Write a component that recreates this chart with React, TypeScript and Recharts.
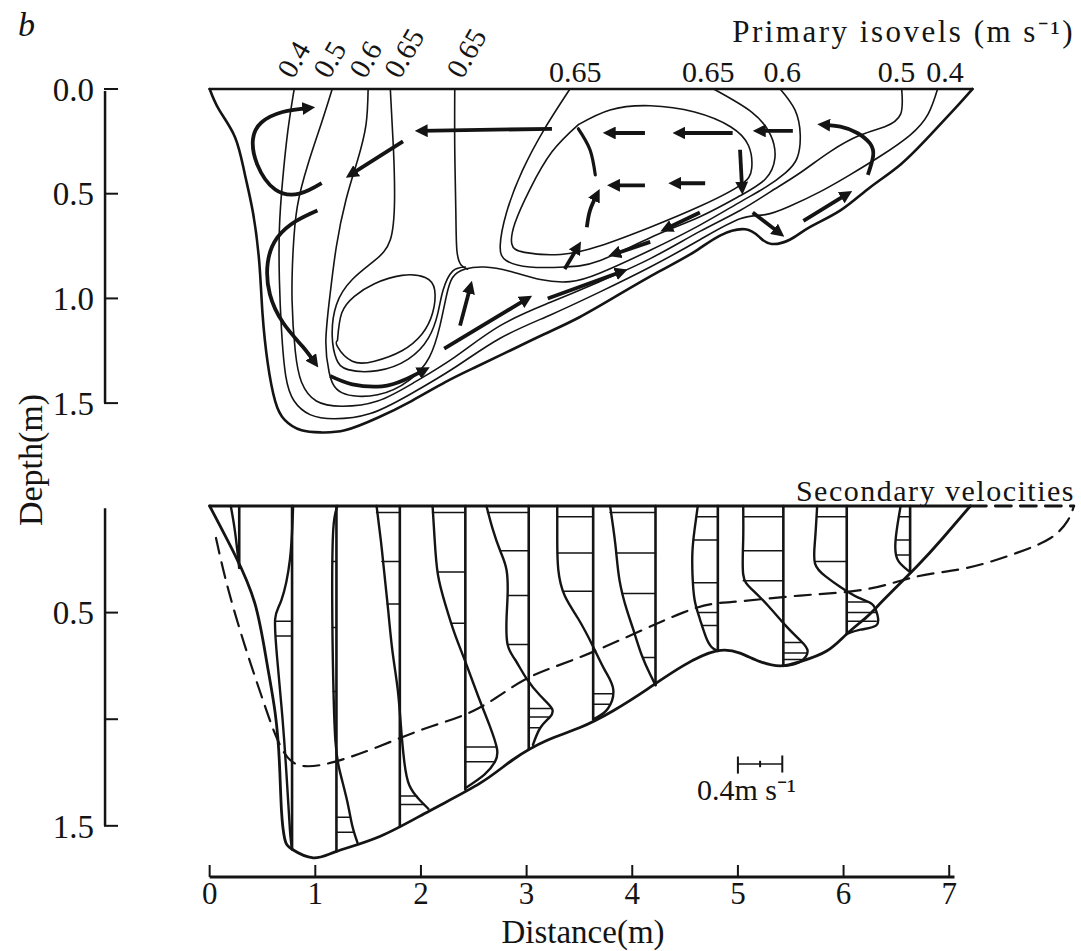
import React from 'react';
import { LineChart, Line, XAxis, YAxis, ReferenceLine, ReferenceDot } from 'recharts';

type Pt = [number, number]; // [distance m, depth m]

const INK = '#141414';
const SERIF = '"Liberation Serif", "Times New Roman", serif';

// ---------- top panel: primary isovels ----------
const surfaceTop: Pt[] = [[0, 0], [7.22, 0]];
const outlineTop: Pt[] = [[0, 0], [0.09, 0.1], [0.24, 0.23], [0.33, 0.4], [0.41, 0.59], [0.47, 0.83], [0.5, 1.07], [0.55, 1.31], [0.62, 1.49], [0.71, 1.58], [0.87, 1.63], [1.06, 1.64], [1.28, 1.63], [1.59, 1.57], [1.91, 1.49], [2.23, 1.4], [2.51, 1.33], [2.84, 1.25], [3.17, 1.17], [3.5, 1.09], [3.88, 0.98], [4.26, 0.87], [4.58, 0.78], [4.83, 0.7], [5.07, 0.67], [5.21, 0.71], [5.32, 0.74], [5.49, 0.72], [5.68, 0.66], [5.97, 0.58], [6.25, 0.47], [6.54, 0.36], [6.82, 0.22], [7.06, 0.09], [7.22, 0]];
const iso04: Pt[] = [[0.8, 0], [0.74, 0.2], [0.69, 0.44], [0.66, 0.67], [0.66, 0.91], [0.68, 1.15], [0.72, 1.37], [0.8, 1.49], [0.95, 1.555], [1.18, 1.575], [1.52, 1.55], [1.89, 1.46], [2.32, 1.33], [2.75, 1.19], [3.22, 1.08], [3.69, 0.97], [4.17, 0.85], [4.64, 0.72], [5.02, 0.62], [5.26, 0.6], [5.49, 0.56], [5.78, 0.49], [6.06, 0.41], [6.35, 0.32], [6.63, 0.22], [6.8, 0.12], [6.89, 0]];
const iso05: Pt[] = [[1.16, 0], [1.06, 0.16], [0.93, 0.36], [0.83, 0.56], [0.79, 0.77], [0.78, 1.01], [0.81, 1.25], [0.87, 1.4], [1.01, 1.49], [1.25, 1.515], [1.59, 1.49], [1.94, 1.4], [2.32, 1.28], [2.75, 1.13], [3.22, 1.02], [3.69, 0.92], [4.17, 0.81], [4.64, 0.68], [5.02, 0.58], [5.31, 0.49], [5.59, 0.4], [5.87, 0.3], [6.16, 0.22], [6.39, 0.18], [6.54, 0.12], [6.55, 0]];
const iso06: Pt[] = [[1.5, 0], [1.48, 0.17], [1.4, 0.34], [1.29, 0.53], [1.2, 0.75], [1.14, 0.98], [1.1, 1.2], [1.13, 1.35], [1.25, 1.45], [1.59, 1.46], [1.89, 1.39], [2.08, 1.28], [2.18, 1.13], [2.24, 0.99], [2.3, 0.9], [2.42, 0.86], [2.6, 0.85], [2.84, 0.87], [3.13, 0.91], [3.41, 0.92], [3.69, 0.88], [4.17, 0.77], [4.64, 0.65], [5.02, 0.54], [5.26, 0.47], [5.45, 0.4], [5.56, 0.33], [5.59, 0.22], [5.54, 0.1], [5.4, 0]];
const iso065a: Pt[] = [[1.71, 0], [1.74, 0.29], [1.75, 0.53], [1.71, 0.72], [1.56, 0.82], [1.35, 0.91], [1.2, 1.03], [1.16, 1.18], [1.2, 1.29], [1.31, 1.34], [1.59, 1.345], [1.88, 1.29], [2.07, 1.19], [2.16, 1.07], [2.21, 0.96], [2.3, 0.87], [2.42, 0.85]];
const iso065b: Pt[] = [[2.32, 0], [2.32, 0.29], [2.33, 0.58], [2.34, 0.77], [2.38, 0.84], [2.44, 0.86]];
const iso065c: Pt[] = [[3.41, 0], [3.17, 0.19], [2.96, 0.39], [2.81, 0.59], [2.75, 0.75], [2.81, 0.82], [3.03, 0.85], [3.36, 0.85], [3.69, 0.82], [4.17, 0.71], [4.64, 0.61], [5.02, 0.51], [5.26, 0.43], [5.35, 0.33], [5.31, 0.22], [5.13, 0.11], [4.77, 0]];
const coreLoop: Pt[] = [[3.49, 0.17], [3.79, 0.1], [4.17, 0.08], [4.59, 0.11], [4.93, 0.18], [5.1, 0.27], [5.13, 0.38], [5.02, 0.46], [4.64, 0.56], [4.17, 0.66], [3.69, 0.75], [3.32, 0.79], [2.98, 0.78], [2.86, 0.74], [2.89, 0.64], [3.03, 0.48], [3.24, 0.3], [3.49, 0.17]];
const bedLoop: Pt[] = [[1.21, 1.2], [1.25, 1.07], [1.37, 0.99], [1.56, 0.93], [1.82, 0.89], [2.04, 0.9], [2.13, 0.96], [2.11, 1.07], [2.01, 1.17], [1.82, 1.25], [1.56, 1.3], [1.35, 1.3], [1.21, 1.23], [1.21, 1.2]];

// secondary-flow arrows (tail ... head)
const arrowA: Pt[] = [[1.06, 0.45], [0.85, 0.5], [0.62, 0.48], [0.45, 0.36], [0.41, 0.24], [0.49, 0.16], [0.69, 0.11], [0.95, 0.09]];
const arrowB: Pt[] = [[1.02, 0.58], [0.82, 0.63], [0.64, 0.71], [0.55, 0.83], [0.57, 0.98], [0.7, 1.12], [0.88, 1.23], [1.0, 1.31]];
const arrowC: Pt[] = [[3.24, 0.19], [1.99, 0.2]];
const arrowD: Pt[] = [[1.83, 0.25], [1.33, 0.41]];
const arrowE: Pt[] = [[1.14, 1.37], [1.35, 1.41], [1.63, 1.42], [1.84, 1.39], [2.04, 1.34]];
const arrowF: Pt[] = [[2.37, 1.13], [2.47, 0.94]];
const arrowG: Pt[] = [[2.22, 1.24], [3.01, 1.0]];
const arrowH: Pt[] = [[3.2, 1.0], [3.91, 0.87]];
const arrowI: Pt[] = [[3.36, 0.86], [3.49, 0.75]];
const arrowJ: Pt[] = [[4.17, 0.73], [3.82, 0.79]];
const arrowK: Pt[] = [[4.64, 0.59], [4.31, 0.67]];
const arrowL: Pt[] = [[4.12, 0.21], [3.77, 0.21]];
const arrowM: Pt[] = [[4.95, 0.21], [4.43, 0.21]];
const arrowN: Pt[] = [[5.52, 0.2], [5.19, 0.2]];
const arrowO: Pt[] = [[4.12, 0.46], [3.81, 0.46]];
const arrowP: Pt[] = [[4.69, 0.45], [4.39, 0.45]];
const arrowR: Pt[] = [[3.57, 0.66], [3.6, 0.58], [3.67, 0.5]];
const arrowS: Pt[] = [[5.02, 0.29], [5.04, 0.48]];
const arrowT: Pt[] = [[6.23, 0.41], [6.28, 0.32], [6.25, 0.26], [6.13, 0.21], [5.97, 0.18], [5.8, 0.17]];
const arrowU: Pt[] = [[5.62, 0.63], [6.04, 0.5]];
const arrowV: Pt[] = [[5.14, 0.59], [5.4, 0.69]];
const divide: Pt[] = [[3.49, 0.19], [3.6, 0.29], [3.65, 0.41]];

const leftIsoLabels = ['0.4', '0.5', '0.6', '0.65', '0.65'];
const leftIsoAt = [0.79, 1.13, 1.47, 1.8, 2.39];
const rightIsoLabels = ['0.65', '0.65', '0.6', '0.5', '0.4'];
const rightIsoAt = [3.46, 4.72, 5.42, 6.5, 6.96];

// ---------- bottom panel: secondary velocities ----------
const surfaceBottom: Pt[] = [[0, 0], [7.2, 0]];
const surfaceExtension: Pt[] = [[7.2, 0], [8.18, 0]];
const outlineBottom: Pt[] = [[0, 0], [0.24, 0.23], [0.43, 0.46], [0.54, 0.73], [0.62, 0.97], [0.66, 1.2], [0.68, 1.43], [0.71, 1.56], [0.78, 1.61], [0.98, 1.65], [1.2, 1.62], [1.61, 1.55], [2.08, 1.43], [2.56, 1.3], [2.87, 1.19], [3.19, 1.1], [3.5, 1.04], [3.82, 0.96], [4.14, 0.86], [4.48, 0.75], [4.8, 0.68], [5.02, 0.69], [5.21, 0.73], [5.4, 0.75], [5.59, 0.73], [5.84, 0.68], [6.03, 0.6], [6.22, 0.52], [6.38, 0.44], [6.7, 0.28], [6.94, 0.15], [7.2, 0]];
const dashedCurve: Pt[] = [[0.06, 0.15], [0.17, 0.38], [0.33, 0.65], [0.49, 0.89], [0.62, 1.07], [0.74, 1.18], [0.9, 1.22], [1.18, 1.2], [1.59, 1.13], [2.06, 1.04], [2.54, 0.95], [3.0, 0.81], [3.6, 0.69], [4.48, 0.5], [4.95, 0.45], [5.59, 0.42], [6.22, 0.39], [6.7, 0.33], [7.17, 0.29], [7.64, 0.22], [7.96, 0.15], [8.12, 0.07], [8.18, 0]];

const stationX = [0.28, 0.78, 1.2, 1.8, 2.42, 3.02, 3.63, 4.22, 4.81, 5.43, 6.03, 6.63];
const stationBed = [0.29, 1.61, 1.62, 1.5, 1.33, 1.14, 1.0, 0.84, 0.68, 0.75, 0.6, 0.31];

const p1: Pt[] = [[0.2, 0], [0.24, 0.12], [0.28, 0.29]];
const p2: Pt[] = [[0.79, 0], [0.76, 0.25], [0.68, 0.44], [0.62, 0.53], [0.64, 0.72], [0.69, 1.0], [0.73, 1.28], [0.76, 1.52], [0.78, 1.61]];
const p3: Pt[] = [[1.21, 0], [1.17, 0.11], [1.16, 0.44], [1.17, 0.82], [1.19, 1.1], [1.23, 1.24], [1.3, 1.38], [1.35, 1.5], [1.4, 1.58]];
const p4: Pt[] = [[1.58, 0], [1.62, 0.16], [1.65, 0.3], [1.69, 0.49], [1.73, 0.68], [1.78, 0.86], [1.81, 1.03], [1.84, 1.19], [1.89, 1.31], [1.99, 1.38], [2.07, 1.42]];
const p5: Pt[] = [[2.11, 0], [2.13, 0.16], [2.16, 0.32], [2.23, 0.46], [2.32, 0.6], [2.42, 0.73], [2.54, 0.89], [2.65, 1.03], [2.72, 1.14], [2.7, 1.2], [2.6, 1.26], [2.43, 1.32]];
const p6: Pt[] = [[2.62, 0], [2.68, 0.11], [2.75, 0.21], [2.81, 0.3], [2.82, 0.42], [2.81, 0.53], [2.82, 0.65], [2.89, 0.72], [3.0, 0.81], [3.13, 0.89], [3.24, 0.95], [3.22, 0.99], [3.13, 1.04], [3.06, 1.12]];
const p7: Pt[] = [[3.29, 0], [3.29, 0.16], [3.3, 0.3], [3.36, 0.42], [3.49, 0.53], [3.63, 0.66], [3.74, 0.77], [3.82, 0.86], [3.77, 0.95], [3.67, 0.99], [3.63, 1.0]];
const p8: Pt[] = [[3.79, 0], [3.84, 0.18], [3.88, 0.35], [3.95, 0.49], [4.01, 0.58], [4.09, 0.7], [4.17, 0.79], [4.22, 0.84]];
const p9: Pt[] = [[4.62, 0], [4.59, 0.11], [4.57, 0.21], [4.57, 0.32], [4.59, 0.44], [4.64, 0.53], [4.71, 0.63], [4.77, 0.67], [4.81, 0.68]];
const p10: Pt[] = [[5.05, 0], [5.05, 0.16], [5.05, 0.32], [5.13, 0.39], [5.29, 0.47], [5.45, 0.56], [5.59, 0.63], [5.66, 0.68], [5.59, 0.73], [5.45, 0.75]];
const p11: Pt[] = [[5.75, 0], [5.73, 0.16], [5.73, 0.27], [5.83, 0.33], [5.97, 0.38], [6.14, 0.43], [6.27, 0.46], [6.32, 0.51], [6.31, 0.56], [6.16, 0.58], [6.03, 0.6]];
const p12: Pt[] = [[6.54, 0], [6.51, 0.09], [6.49, 0.18], [6.51, 0.25], [6.58, 0.29], [6.63, 0.31]];

// hatch rungs: [depth, x where the rung meets the profile]
const h2: Pt[] = [[0.54, 0.63], [0.61, 0.63]];
const h3: Pt[] = [[0.26, 1.16], [0.57, 1.16], [0.87, 1.17], [1.46, 1.33], [1.53, 1.36]];
const h4: Pt[] = [[0.03, 1.58], [0.26, 1.63], [0.46, 1.68], [1.36, 1.96], [1.4, 2.03]];
const h5: Pt[] = [[0.03, 2.11], [0.31, 2.16], [0.55, 2.29], [1.13, 2.71], [1.2, 2.7]];
const h6: Pt[] = [[0.03, 2.63], [0.21, 2.75], [0.42, 2.82], [0.65, 2.82], [0.95, 3.23], [0.99, 3.22], [1.04, 3.13]];
const h7: Pt[] = [[0.05, 3.29], [0.22, 3.29], [0.4, 3.34], [0.88, 3.81], [0.93, 3.78]];
const h8: Pt[] = [[0.03, 3.79], [0.22, 3.85], [0.41, 3.9], [0.71, 4.1]];
const h9: Pt[] = [[0.05, 4.61], [0.16, 4.58], [0.36, 4.58], [0.5, 4.63], [0.56, 4.66]];
const h10: Pt[] = [[0.05, 5.05], [0.21, 5.05], [0.35, 5.05], [0.64, 5.6], [0.69, 5.65], [0.72, 5.6]];
const h11: Pt[] = [[0.05, 5.75], [0.26, 5.73], [0.45, 6.23], [0.5, 6.31], [0.54, 6.31]];
const h12: Pt[] = [[0.05, 6.53], [0.16, 6.5], [0.23, 6.5]];

const profiles = [p1, p2, p3, p4, p5, p6, p7, p8, p9, p10, p11, p12];
const hatches = [[], h2, h3, h4, h5, h6, h7, h8, h9, h10, h11, h12] as Pt[][];

const distanceTicks = [0, 1, 2, 3, 4, 5, 6, 7];

const rows = (pts: Pt[]) => pts.map(([x, d]) => ({ x, d }));

function trace(key: string, pts: Pt[], width: number, opts: { type?: any; dash?: string; head?: boolean } = {}) {
  return (
    <Line
      key={key}
      data={rows(pts)}
      dataKey="d"
      type={opts.type ?? 'natural'}
      stroke={INK}
      strokeWidth={width}
      strokeDasharray={opts.dash}
      strokeLinecap={opts.head ? 'butt' : 'round'}
      strokeLinejoin="round"
      markerEnd={opts.head ? 'url(#arrowHead)' : undefined}
      dot={false}
      activeDot={false}
      legendType="none"
      isAnimationActive={false}
    />
  );
}

const tickFont = { fill: INK, fontSize: 33, fontFamily: SERIF };

export default function App() {
  const isovels = [iso04, iso05, iso06, iso065a, iso065b, iso065c, coreLoop, bedLoop];
  const arrows = [arrowA, arrowB, arrowC, arrowD, arrowE, arrowF, arrowG, arrowH, arrowI, arrowJ, arrowK, arrowL, arrowM, arrowN, arrowO, arrowP, arrowR, arrowS, arrowT, arrowU, arrowV];

  return (
    <div style={{ position: 'absolute', left: 0, top: 0, width: 1081, height: 951, background: '#fff', color: INK, fontFamily: SERIF, overflow: 'hidden' }}>
      <svg width={0} height={0} style={{ position: 'absolute' }}>
        <defs>
          <marker id="arrowHead" viewBox="0 0 10 10" refX={6} refY={5} markerWidth={3.4} markerHeight={3.4} orient="auto" markerUnits="strokeWidth">
            <path d="M0,0 L10,5 L0,10 z" fill={INK} />
          </marker>
        </defs>
      </svg>

      <div style={{ position: 'absolute', left: 18, top: 6, fontSize: 34, fontStyle: 'italic', lineHeight: 1.1 }}>b</div>
      <div style={{ position: 'absolute', right: 6, top: 16, fontSize: 31, letterSpacing: 2.5, lineHeight: 1, whiteSpace: 'nowrap' }}>
        Primary isovels (m s⁻¹)
      </div>
      <div style={{ position: 'absolute', right: 6, top: 476, fontSize: 30, letterSpacing: 1.5, lineHeight: 1, whiteSpace: 'nowrap' }}>
        Secondary velocities
      </div>
      <div style={{ position: 'absolute', left: 697, top: 775, fontSize: 30, lineHeight: 1, whiteSpace: 'nowrap' }}>0.4m s⁻¹</div>
      <div style={{ position: 'absolute', left: 31, top: 460, fontSize: 34, lineHeight: 1, whiteSpace: 'nowrap', transform: 'translate(-50%, -50%) rotate(-90deg)' }}>
        Depth(m)
      </div>
      <div style={{ position: 'absolute', left: 583, top: 916, fontSize: 33, lineHeight: 1, whiteSpace: 'nowrap', transform: 'translateX(-50%)' }}>
        Distance(m)
      </div>

      {/* primary isovels */}
      <div style={{ position: 'absolute', left: 0, top: 0 }}>
        <LineChart width={1081} height={450} margin={{ top: 89, right: 5, bottom: 5, left: 44 }}>
          <XAxis type="number" dataKey="x" domain={[-1, 8.2]} hide />
          <YAxis
            type="number"
            width={60}
            domain={[0, 1.7]}
            reversed
            ticks={[0, 0.5, 1, 1.5]}
            interval={0}
            tickFormatter={(v: number) => v.toFixed(1)}
            axisLine={false}
            tickSize={-14}
            tickMargin={24}
            tickLine={{ stroke: INK, strokeWidth: 2 }}
            tick={tickFont}
          />
          <ReferenceLine segment={[{ x: -0.99, y: 0.01 }, { x: -0.99, y: 1.5 }]} stroke={INK} strokeWidth={2.5} ifOverflow="visible" />
          {trace('surface', surfaceTop, 2.6, { type: 'linear' })}
          {trace('outline', outlineTop, 2.6)}
          {isovels.map((pts, i) => trace(`iso-${i}`, pts, 1.6))}
          {arrows.map((pts, i) => trace(`arrow-${i}`, pts, 3.8, { type: pts.length > 2 ? 'natural' : 'linear', head: true }))}
          {trace('divide', divide, 3.2)}
          {leftIsoLabels.map((label, i) => (
            <ReferenceDot
              key={`ll-${i}`}
              x={leftIsoAt[i]}
              y={0}
              r={0}
              ifOverflow="visible"
              shape={(p: any) => (
                <text x={p.cx} y={p.cy - 9} transform={`rotate(-60 ${p.cx} ${p.cy - 9})`} fontSize={29} fontFamily={SERIF} fill={INK}>
                  {label}
                </text>
              )}
            />
          ))}
          {rightIsoLabels.map((label, i) => (
            <ReferenceDot
              key={`rl-${i}`}
              x={rightIsoAt[i]}
              y={0}
              r={0}
              ifOverflow="visible"
              shape={(p: any) => (
                <text x={p.cx} y={p.cy - 7} textAnchor="middle" fontSize={30} fontFamily={SERIF} fill={INK}>
                  {label}
                </text>
              )}
            />
          ))}
        </LineChart>
      </div>

      {/* secondary velocities */}
      <div style={{ position: 'absolute', left: 0, top: 470 }}>
        <LineChart width={1081} height={481} margin={{ top: 36, right: 5, bottom: 4, left: 44 }}>
          <XAxis
            type="number"
            dataKey="x"
            domain={[-1, 8.2]}
            ticks={distanceTicks}
            interval={0}
            height={70}
            axisLine={false}
            tickSize={-12}
            tickMargin={17}
            tickLine={{ stroke: INK, strokeWidth: 2 }}
            tick={{ ...tickFont, fontSize: 31 }}
          />
          <YAxis
            type="number"
            width={60}
            domain={[0, 1.74]}
            reversed
            ticks={[0.5, 1, 1.5]}
            interval={0}
            tickFormatter={(v: number) => (v === 1 ? '' : v.toFixed(1))}
            axisLine={false}
            tickSize={-14}
            tickMargin={24}
            tickLine={{ stroke: INK, strokeWidth: 2 }}
            tick={tickFont}
          />
          <ReferenceLine segment={[{ x: -0.99, y: 0.01 }, { x: -0.99, y: 1.5 }]} stroke={INK} strokeWidth={2.5} ifOverflow="visible" />
          <ReferenceLine segment={[{ x: 0, y: 1.74 }, { x: 7.05, y: 1.74 }]} stroke={INK} strokeWidth={3} ifOverflow="visible" />
          {/* 0.4 m/s scale bar */}
          <ReferenceLine segment={[{ x: 5.0, y: 1.21 }, { x: 5.42, y: 1.21 }]} stroke={INK} strokeWidth={1.5} ifOverflow="visible" />
          <ReferenceLine segment={[{ x: 5.0, y: 1.175 }, { x: 5.0, y: 1.255 }]} stroke={INK} strokeWidth={2} ifOverflow="visible" />
          <ReferenceLine segment={[{ x: 5.42, y: 1.17 }, { x: 5.42, y: 1.25 }]} stroke={INK} strokeWidth={2} ifOverflow="visible" />
          <ReferenceLine segment={[{ x: 5.21, y: 1.195 }, { x: 5.21, y: 1.225 }]} stroke={INK} strokeWidth={2} ifOverflow="visible" />

          {trace('surface', surfaceBottom, 2.8, { type: 'linear' })}
          {trace('surface-ext', surfaceExtension, 2.8, { type: 'linear', dash: '16 9' })}
          {trace('outline', outlineBottom, 2.8)}
          {trace('dashed', dashedCurve, 2.2, { dash: '16 9' })}
          {stationX.map((sx, i) =>
            trace(`st-${i}`, [[sx, 0], [sx, stationBed[i]]], 2.6, { type: 'linear' })
          )}
          {profiles.map((pts, i) => trace(`pr-${i}`, pts, 2.4))}
          {hatches.map((rungs, i) =>
            rungs.map(([d, px], j) => trace(`h-${i}-${j}`, [[px, d], [stationX[i], d]], 1.5, { type: 'linear' }))
          )}
        </LineChart>
      </div>
    </div>
  );
}
